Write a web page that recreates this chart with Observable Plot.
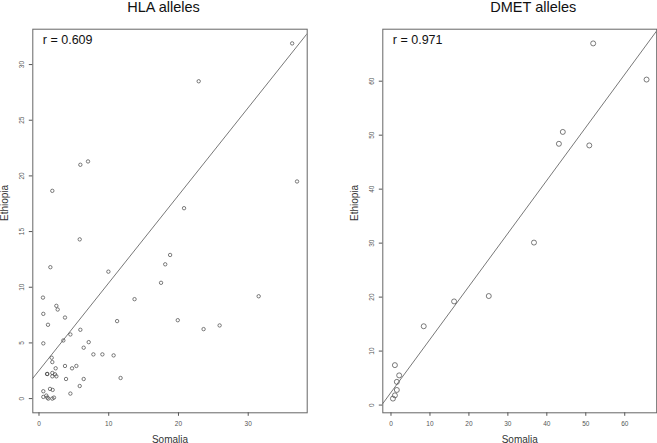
<!DOCTYPE html>
<html>
<head>
<meta charset="utf-8">
<script src="https://cdn.jsdelivr.net/npm/d3@7"></script>
<script src="https://cdn.jsdelivr.net/npm/@observablehq/plot@0.6"></script>
<style>
  html, body { margin: 0; padding: 0; background: #fff; }
  #wrap { position: relative; width: 657px; height: 443px; overflow: hidden; font-family: "Liberation Sans", Arial, sans-serif; }
  #wrap > div { position: absolute; top: 0; }
  svg { overflow: visible; }
</style>
</head>
<body>
<div id="wrap"><div id="left" style="left:0"></div><div id="right" style="left:330px"></div></div>
<script>
// ---- Data ----
const titles = ["HLA alleles", "DMET alleles"];
const rLabels = ["r = 0.609", "r = 0.971"];
const xLabel = "Somalia";
const yLabel = "Ethiopia";

// HLA alleles: Somalia (x) vs Ethiopia (y) frequencies
const hlaSomalia = [36.3, 22.9, 37.0, 7.03, 5.93, 1.91, 20.8, 5.84, 18.8, 18.1, 1.63, 9.95, 17.5, 0.57, 31.5, 13.7, 2.49, 2.68, 0.62, 3.73,
  19.9, 11.2, 1.29, 25.9, 23.6, 5.93, 4.50, 3.49, 7.13, 0.62, 6.41, 7.80, 9.09, 10.7, 1.82, 1.91, 3.73, 5.36, 2.39, 4.74,
  1.15, 1.20, 1.91, 2.30, 1.91, 2.49, 3.88, 6.41, 11.7, 5.84, 1.58, 1.96, 0.62, 4.50, 0.62, 1.05, 1.20, 1.34, 1.91, 2.15];
const hlaEthiopia = [31.9, 28.5, 19.5, 21.3, 21.0, 18.66, 17.1, 14.3, 12.9, 12.06, 11.8, 11.4, 10.4, 9.07, 9.19, 8.93, 8.33, 8.0, 7.61, 7.28,
  7.04, 6.96, 6.63, 6.57, 6.24, 6.18, 5.76, 5.22, 5.07, 4.96, 4.57, 3.97, 3.97, 3.88, 3.67, 3.28, 2.93, 2.93, 2.72, 2.72,
  2.21, 2.21, 2.30, 2.18, 2.0, 2.0, 1.76, 1.76, 1.85, 1.13, 0.87, 0.78, 0.66, 0.45, 0.15, 0.27, 0.09, 0.0, 0.0, 0.09];

// DMET alleles
const dmetSomalia = [51.9, 65.6, 44.1, 43.1, 50.9, 36.7, 25.1, 16.2, 8.4, 1.0, 2.1, 1.5, 1.5, 1.0, 0.5];
const dmetEthiopia = [67.0, 60.3, 50.6, 48.4, 48.1, 30.1, 20.2, 19.2, 14.6, 7.4, 5.5, 4.3, 2.8, 1.8, 1.2];

// Fitted lines (intercept, slope)
const hlaFit = [2.52, 0.787];
const dmetFit = [2.35, 0.982];

// Tick values
const hlaXTicks = [0, 10, 20, 30];
const hlaYTicks = [0, 5, 10, 15, 20, 25, 30];
const dmetXTicks = [0, 10, 20, 30, 40, 50, 60];
const dmetYTicks = [0, 10, 20, 30, 40, 50, 60];

// ---- Drawing ----
function pad4(v) { // R-style 4% range extension
  const [a, b] = d3.extent(v); const p = (b - a) * 0.04; return [a - p, b + p];
}

function panel({xs, ys, fit, xTicks, yTicks, title, rLabel, width, marginLeft, marginRight, titleDx, r}) {
  const xd = pad4(xs), yd = pad4(ys);
  const pts = xs.map((x, i) => ({x, y: ys[i]}));
  const linePts = xd.map(x => ({x, y: fit[0] + fit[1] * x}));
  const grey = "#555";
  return Plot.plot({
    width, height: 443,
    marginLeft, marginRight, marginTop: 28.7, marginBottom: 30.7,
    style: {fontFamily: "'Liberation Sans', Arial, sans-serif", background: "white"},
    x: {domain: xd},
    y: {domain: yd},
    marks: [
      Plot.frame({stroke: "#666", strokeWidth: 1}),
      Plot.axisX({ticks: xTicks, tickSize: 3.5, tickPadding: 5, fontSize: 6.5, color: grey, label: null, tickFormat: d => d}),
      Plot.axisY({ticks: yTicks, tickSize: 3.5, tickPadding: 5, fontSize: 6.5, color: grey, label: null, tickRotate: -90, tickFormat: d => d}),
      Plot.line(linePts, {x: "x", y: "y", stroke: "#555", strokeWidth: 0.8, clip: true}),
      Plot.dot(pts, {x: "x", y: "y", r, stroke: "#444", strokeWidth: 0.7, fill: "none"}),
      Plot.text([rLabel], {frameAnchor: "top-left", dx: 10, dy: 10.5, lineAnchor: "middle", textAnchor: "start", fontSize: 12.5, fill: "#111"}),
      Plot.text([title], {frameAnchor: "top", dx: titleDx, dy: -21.5, lineAnchor: "middle", fontSize: 14.5, fill: "#111"}),
      Plot.text([xLabel], {frameAnchor: "bottom", dy: 26.5, lineAnchor: "middle", fontSize: 10, fill: "#333"}),
      Plot.text([yLabel], {frameAnchor: "left", dx: -28.3, rotate: -90, lineAnchor: "middle", fontSize: 10, fill: "#333"})
    ]
  });
}

document.getElementById("left").appendChild(panel({
  xs: hlaSomalia, ys: hlaEthiopia, fit: hlaFit, xTicks: hlaXTicks, yTicks: hlaYTicks,
  title: titles[0], rLabel: rLabels[0], width: 330, marginLeft: 32.3, marginRight: 23.3, titleDx: -6.5, r: 1.7
}));
document.getElementById("right").appendChild(panel({
  xs: dmetSomalia, ys: dmetEthiopia, fit: dmetFit, xTicks: dmetXTicks, yTicks: dmetYTicks,
  title: titles[1], rLabel: rLabels[1], width: 327, marginLeft: 52.3, marginRight: 0.8, titleDx: 13.5, r: 2.5
}));
</script>
</body>
</html>
